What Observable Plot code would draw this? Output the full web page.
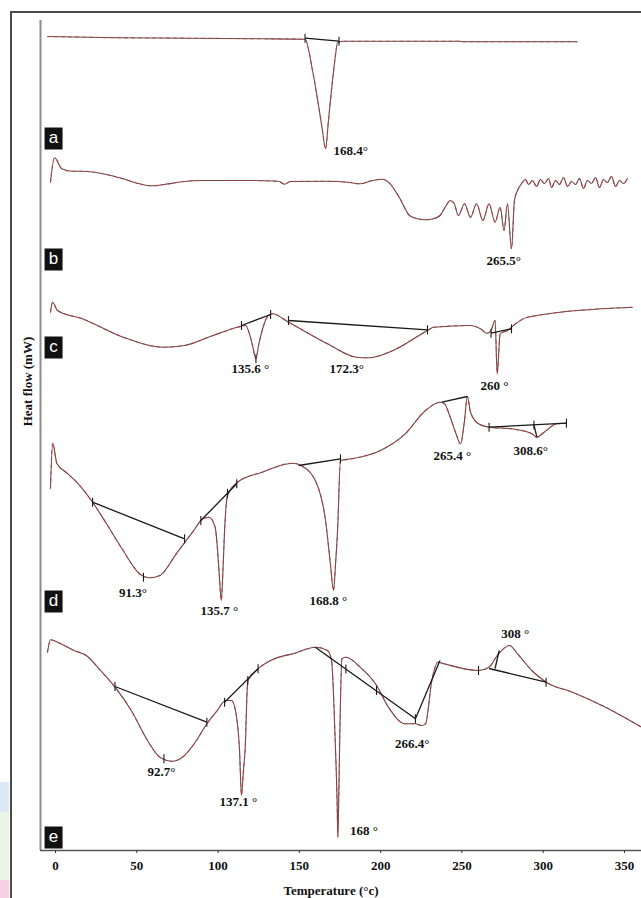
<!DOCTYPE html>
<html><head><meta charset="utf-8">
<script src="https://cdn.jsdelivr.net/npm/d3@7"></script>
<script src="https://cdn.jsdelivr.net/npm/@observablehq/plot@0.6"></script>
<style>
body{margin:0;background:#fff;}
#wrap{position:relative;width:641px;height:898px;overflow:hidden;background:#fff;}
#border{position:absolute;left:10px;top:11px;width:640px;height:900px;border-top:2px solid #4a4a4a;border-left:2px solid #4a4a4a;}
.patch{position:absolute;left:0;width:9px;}
#chart{position:absolute;left:0;top:0;}
</style></head><body>
<div id="wrap">
  <div class="patch" style="top:782px;height:30px;background:#dce9f6"></div>
  <div class="patch" style="top:812px;height:68px;background:#ecf4e6"></div>
  <div class="patch" style="top:880px;height:18px;background:#f5d2e2"></div>
  <div id="border"></div>
  <div id="chart"></div>
</div>
<script>
// Temperature (°C) vs stacked heat flow (a.u.)
const xTicks = [0, 50, 100, 150, 200, 250, 300, 350];
const xDomain = [-9.23, 360.46];
const seriesNames = ["a", "b", "c", "d", "e"];

const curveA = [[-4.9,814],[39.1,812.7],[81.8,812.3],[127.1,811.7],[153.5,811.2],[158.1,780],[161.8,745],[164.2,720],[166.1,701.7],[167.9,730],[170.4,770],[172.2,795],[173.5,808],[177.4,809.3],[249.1,809.3],[250.3,808.7],[320.8,808.7]];

const curveB = [[-3.1,668.3],[-0.6,692.7],[3.9,681.7],[10.1,679.3],[16.5,679.3],[31.4,676],[41.6,671.7],[51.7,666.7],[59.1,664.7],[66.7,666],[79.4,669],[89.2,670],[116.9,670],[137.2,669.3],[140.9,666.3],[144.6,669],[167.3,669.3],[179.9,668.3],[187.6,666.7],[195.0,670],[201.1,671.3],[204.8,668.3],[211.4,653.3],[217.8,635],[222.7,631.7],[227.6,630.7],[232.5,631.7],[236.5,635],[240.3,645],[242.8,650],[245.3,646.7],[247.8,635],[251.6,646.7],[255.3,633.3],[259.0,646.7],[262.9,630],[266.7,646.7],[270.4,628.3],[273.5,643.3],[275.9,620],[278.0,646.7],[280.5,601.7],[282.3,650],[284.2,660],[286.6,666.7],[289.1,671],[291.0,666],[293.4,670],[295.9,664],[298.3,671],[300.8,667],[303.3,672],[305.1,663],[307.6,670],[310.0,666],[312.5,673],[315.0,664],[317.4,669],[319.9,666],[322.3,672],[324.8,662],[327.2,670],[329.7,667],[332.2,673],[334.6,663],[337.1,671],[339.5,668],[342.0,674],[344.5,664],[346.9,670],[349.4,667],[351.8,672]];

const curveC = [[-3.1,538.3],[-1.8,548.3],[1.2,540],[16.5,531.7],[41.6,513.3],[66.7,503.3],[79.4,505],[96.9,515],[112.0,523.3],[116.9,525],[119.3,516.7],[121.2,505],[123.3,491.7],[124.9,505],[127.1,520],[130.9,535],[133.4,536.7],[143.3,528.3],[167.3,506.7],[185.0,493.3],[192.5,492.7],[207.6,500],[228.8,520],[232.7,523.3],[255.3,525],[261.4,521.7],[265.4,517.3],[267.9,520],[270.4,530],[271.7,476.7],[273.5,516.7],[278.0,520],[283.0,526.7],[290.3,533.3],[354.7,543.3]];

const curveD = [[-3.1,362],[-1.7,407.3],[0.9,386.7],[6.4,378.3],[14.0,366.7],[22.8,348.3],[31.4,326.7],[41.6,300],[51.7,276.7],[57.8,272.7],[64.2,275],[74.3,296.7],[84.3,318.3],[90.7,331.7],[94.4,333.3],[98.2,323.3],[99.7,300],[100.7,276.7],[102.0,250],[103.0,280],[104.0,320],[105.8,355],[112.0,368.3],[127.1,378.3],[145.8,387.3],[151.0,385],[159.8,370],[166.1,330],[169.2,285],[171.0,260],[172.2,285],[173.5,320],[175.3,390],[182.4,391.7],[199.9,400],[215.1,416.7],[227.6,440],[236.5,448.3],[239.0,447.3],[242.8,433.3],[246.1,418],[249.1,406.7],[251.6,430],[253.3,454],[255.3,438.3],[260.2,426.7],[266.7,423.3],[280.5,421.7],[293.0,416.7],[296.1,413.3],[300.6,418.3],[308.2,426.7],[314.3,427.3]];

const curveE = [[-4.9,198.3],[-3.1,210.7],[1.2,208.3],[11.4,200],[18.9,195],[27.7,180],[36.6,163.3],[46.6,140],[56.6,110],[64.2,93.3],[71.8,89.3],[78.1,93.3],[86.7,110],[93.1,126.7],[99.5,140],[104.6,150],[108.3,150],[110.7,140],[113.2,100],[114.4,55],[115.6,80],[116.6,100],[118.3,170],[124.6,181.7],[132.3,190],[147.2,197.3],[159.8,203.3],[167.3,200],[169.8,190],[171.9,116.7],[173.2,50],[173.7,13.3],[174.2,50],[174.9,116.7],[176.2,191.7],[178.6,193.3],[187.4,183.3],[197.5,165],[204.8,143.3],[215.1,126.7],[221.4,126.7],[225.1,125],[227.6,126.7],[231.5,170],[235.2,188.3],[239.0,186.7],[260.2,180],[266.7,183.3],[271.7,195],[279.3,205],[284.2,196.7],[293.0,180],[301.8,168.3],[318.0,158.3],[338.3,143.3],[360.5,123.3]];

// integration baselines (tangent segments): [T1, hf1, T2, hf2]
const baselineSegments = [
  [153.5,812.3,174.4,809.3],
  [114.4,525,132.3,536],[143.3,530,228.8,520.7],[267.9,517.3,280.5,521.7],
  [22.8,348.3,79.4,311.7],[89.4,330,111.5,366.7],[149.5,385,175.3,391.7],[237.7,448.3,253.3,454],[266.7,423.3,314.3,427.3],[294.3,425.6,296.1,413.3],
  [36.6,164,93.1,128.3],[104,148.3,124.6,181.7],[159.8,203.3,221.4,131.7],[221.4,131.7,236.5,190],[266.7,182,301.8,168.3],[270.4,182,272.9,200]
];
// small vertical limit marks
const limitMarks = [
  [153.5,812.3],[174.4,809.3],
  [114.4,525],[132.3,536],[143.3,530],[228.8,520.7],[267.9,517.3],[280.5,521.7],[123.3,491.7],
  [22.8,348.3],[79.4,311.7],[54.1,273.3],[89.4,330],[105.8,357.2],[111.5,366.7],[175.3,391.7],[266.7,423.3],[294.3,425.6],[314.3,427.3],
  [36.6,164],[93.1,128.3],[66.7,91.7],[104,148.3],[118.3,170],[124.6,181.7],[178.6,181.5],[197.5,160],[221.4,131.7],[260.2,180],[301.8,168.3]
];

const peakLabels = [
  ["168.4°",171.0,700],
  ["265.5°",265.1,590],
  ["135.6 °",108.3,482],["172.3°",168.5,482],["260 °",261.4,465],
  ["91.3°",39.1,258],["135.7 °",89.2,240],["168.8 °",156.2,250],["265.4 °",232.5,395],["308.6°",281.7,400],
  ["92.7°",56.6,78.3],["137.1 °",100.9,48.3],["168 °",181.2,20],["266.4°",208.8,106.7],["308 °",274.2,216.7]
];
const panelLevels = [712, 591, 503, 249, 13];
const panelT = -1.2;

const curves = [curveA, curveB, curveC, curveD, curveE];
const rows = curves.flatMap((c, i) => c.map(([T, hf]) => ({series: seriesNames[i], T, hf})));
const segs = baselineSegments.map(([x1, y1, x2, y2]) => ({x1, y1, x2, y2}));
const marksPts = limitMarks.map(([T, hf]) => ({T, hf}));
const labels = peakLabels.map(([label, T, hf]) => ({label, T, hf}));
const panels = seriesNames.map((s, i) => ({s, T: panelT, hf: panelLevels[i]}));

const vTick = {draw(ctx) { ctx.moveTo(0, -4.5); ctx.lineTo(0, 4.5); }};
const box = {draw(ctx) { ctx.rect(-9, -11, 18, 22); }};
const serif = "'Liberation Serif', 'Times New Roman', serif";

const chart = Plot.plot({
  width: 641, height: 898,
  marginLeft: 40, marginRight: 0, marginTop: 20, marginBottom: 48,
  style: {background: "transparent", overflow: "visible"},
  x: {domain: xDomain, label: null},
  y: {domain: [0, 830], axis: null},
  marks: [
    Plot.ruleX([xDomain[0]], {stroke: "#8c8c8c", strokeWidth: 2}),
    Plot.ruleY([0], {stroke: "#555", strokeWidth: 1.5}),
    Plot.axisX(xTicks, {tickSize: 3, tickPadding: 7, fontSize: 13, fontWeight: "bold", fontFamily: serif, fill: "#111", stroke: "#333", label: null}),
    Plot.line(rows, {x: "T", y: "hf", z: "series", curve: "monotone-x", stroke: "#5e4d4d", strokeWidth: 1.1, strokeLinejoin: "round"}),
    Plot.line(rows, {x: "T", y: "hf", z: "series", curve: "monotone-x", stroke: "#c8353a", strokeWidth: 1.1, strokeDasharray: "3,4", strokeOpacity: 0.75}),
    Plot.link(segs, {x1: "x1", y1: "y1", x2: "x2", y2: "y2", stroke: "#1a1a1a", strokeWidth: 1.3}),
    Plot.dot(marksPts, {x: "T", y: "hf", symbol: vTick, stroke: "#1a1a1a", fill: "none", strokeWidth: 1.1}),
    Plot.text(labels, {x: "T", y: "hf", text: "label", textAnchor: "start", lineAnchor: "middle", fontSize: 13, fontWeight: "bold", fontFamily: serif, fill: "#111"}),
    Plot.dot(panels, {x: "T", y: "hf", symbol: box, fill: "#111", stroke: null}),
    Plot.text(panels, {x: "T", y: "hf", text: "s", fill: "#fff", fontSize: 17, fontFamily: "'Liberation Sans', Arial, sans-serif", lineAnchor: "middle", dy: -1}),
    Plot.text(["Heat flow (mW)"], {frameAnchor: "left", textAnchor: "middle", rotate: -90, dx: -13, dy: -54, fontSize: 13, fontWeight: "bold", fontFamily: serif, fill: "#111"}),
    Plot.text(["Temperature (°c)"], {frameAnchor: "bottom", textAnchor: "middle", lineAnchor: "middle", dx: -10, dy: 40, fontSize: 13, fontWeight: "bold", fontFamily: serif, fill: "#111"})
  ]
});
document.getElementById("chart").appendChild(chart);
</script>
</body></html>
